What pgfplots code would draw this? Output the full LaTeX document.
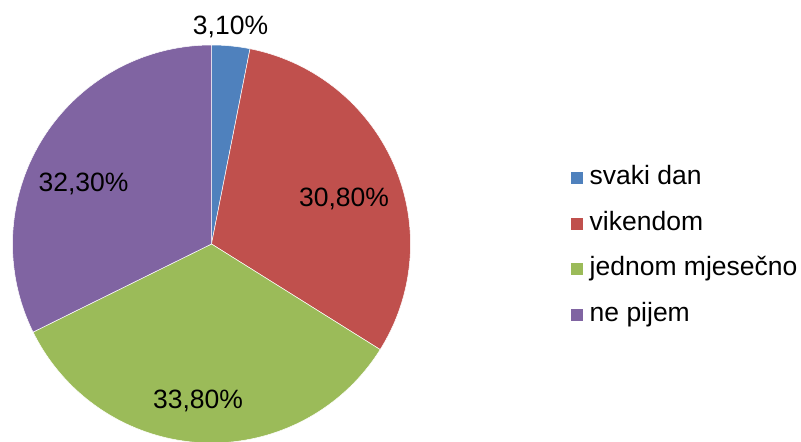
\documentclass[border=0pt]{standalone}
\usepackage{pgfplots}
\pgfplotsset{compat=1.18}
\usepackage{fontspec}
\setmainfont{Liberation Sans}
\definecolor{cA}{HTML}{4F81BD}
\definecolor{cB}{HTML}{C0504D}
\definecolor{cC}{HTML}{9BBB59}
\definecolor{cD}{HTML}{8064A2}
% shares in percent
\def\pA{3.1}
\def\pB{30.8}
\def\pC{33.8}
\def\pD{32.3}
\pgfmathsetmacro\aA{90-3.6*\pA}
\pgfmathsetmacro\aB{\aA-3.6*\pB}
\pgfmathsetmacro\aC{\aB-3.6*\pC}
\pgfmathsetmacro\aD{\aC-3.6*\pD}
\def\cx{211.5}
\def\cy{198}
\def\rr{199}
\begin{document}
\begin{tikzpicture}[font=\fontsize{26.5}{30}\selectfont]
\begin{axis}[
  width=801pt, height=442pt, scale only axis,
  xmin=0, xmax=801, ymin=0, ymax=442,
  hide axis,
  legend cell align=left,
  legend image code/.code={\fill[#1] (0pt,-6.5pt) rectangle (13pt,6.5pt);},
  legend style={draw=none, fill=none, at={(axis cs:570,195.5)}, anchor=west,
    inner sep=0pt, column sep=6pt, row sep=20.5pt,
    nodes={inner sep=0pt, text height=19pt, text depth=6pt, font=\fontsize{26.5}{30}\selectfont}},
]
\addplot[fill=cA, draw=white, line width=0.5pt, domain=\aA:90, samples=20, variable=\t]
  ({\cx+\rr*cos(\t)},{\cy+\rr*sin(\t)}) -- (axis cs:\cx,\cy) -- cycle;
\addlegendentry{svaki dan}
\addplot[fill=cB, draw=white, line width=0.5pt, domain=\aB:\aA, samples=100, variable=\t]
  ({\cx+\rr*cos(\t)},{\cy+\rr*sin(\t)}) -- (axis cs:\cx,\cy) -- cycle;
\addlegendentry{vikendom}
\addplot[fill=cC, draw=white, line width=0.5pt, domain=\aC:\aB, samples=100, variable=\t]
  ({\cx+\rr*cos(\t)},{\cy+\rr*sin(\t)}) -- (axis cs:\cx,\cy) -- cycle;
\addlegendentry{jednom mjesečno}
\addplot[fill=cD, draw=white, line width=0.5pt, domain=\aD:\aC, samples=100, variable=\t]
  ({\cx+\rr*cos(\t)},{\cy+\rr*sin(\t)}) -- (axis cs:\cx,\cy) -- cycle;
\addlegendentry{ne pijem}
\node[anchor=base, inner sep=0pt] at (axis cs:230.5,407) {3,10\%};
\node[anchor=base, inner sep=0pt] at (axis cs:344,235) {30,80\%};
\node[anchor=base, inner sep=0pt] at (axis cs:83.5,250) {32,30\%};
\node[anchor=base, inner sep=0pt] at (axis cs:198,33) {33,80\%};
\end{axis}
\path (current axis.south west) rectangle (current axis.north east);
\end{tikzpicture}
\end{document}
